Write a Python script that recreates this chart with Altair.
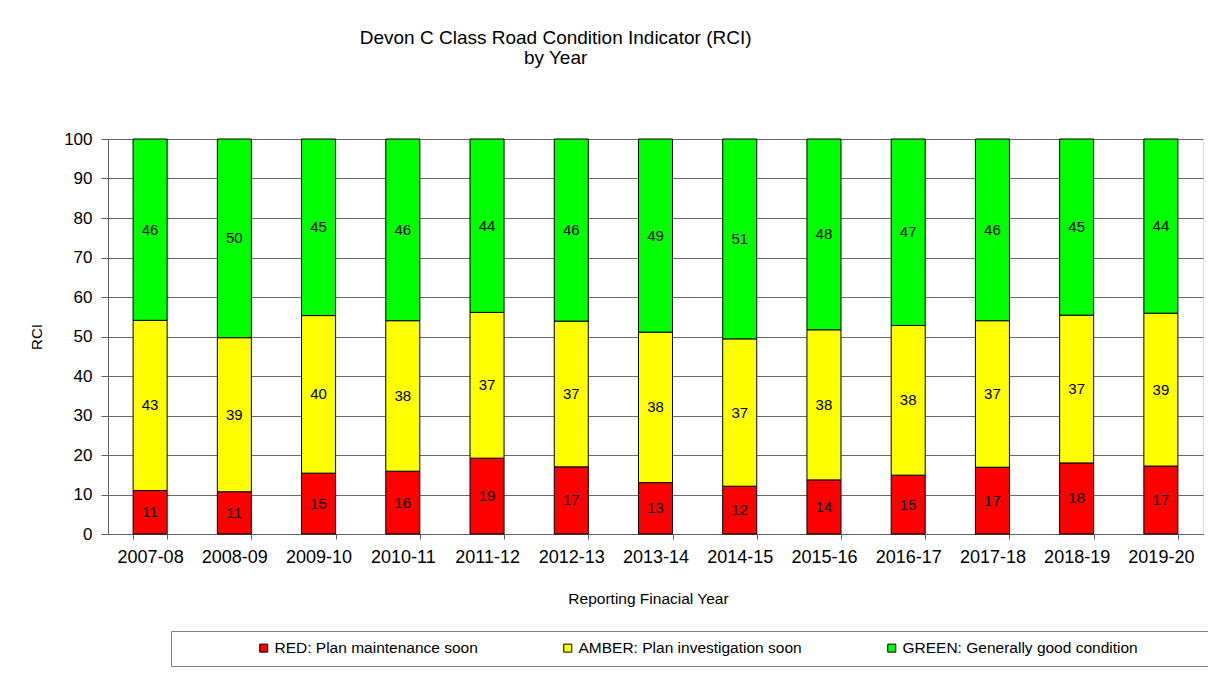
import altair as alt
import pandas as pd

years = ["2007-08", "2008-09", "2009-10", "2010-11", "2011-12", "2012-13", "2013-14",
         "2014-15", "2015-16", "2016-17", "2017-18", "2018-19", "2019-20"]
red = [11.0, 10.7, 15.4, 15.9, 19.2, 17.0, 13.0, 12.1, 13.7, 14.9, 16.9, 18.0, 17.2]
amber = [43.1, 39.0, 39.9, 38.1, 36.9, 36.9, 38.1, 37.3, 38.0, 37.9, 37.1, 37.4, 38.7]
green = [45.9, 50.3, 44.7, 46.0, 43.9, 46.1, 48.9, 50.6, 48.3, 47.2, 46.0, 44.6, 44.1]
series = ["RED: Plan maintenance soon", "AMBER: Plan investigation soon",
          "GREEN: Generally good condition"]
colors = ["#FF0000", "#FFFF00", "#00FF00"]
y_ticks = list(range(0, 101, 10))

rows = []
for i, yr in enumerate(years):
    for k, (s, vals) in enumerate(zip(series, [red, amber, green])):
        rows.append({"year": yr, "series": s, "order": k, "value": vals[i]})
df = pd.DataFrame(rows)

FONT = "Liberation Sans"

base = alt.Chart(df).transform_stack(
    stack="value", groupby=["year"], as_=["v0", "v1"],
    sort=[alt.SortField("order", "ascending")]
)

x_enc = alt.X(
    "year:N", sort=years, title="Reporting Finacial Year",
    scale=alt.Scale(paddingInner=0.596, paddingOuter=0.298),
    axis=alt.Axis(labelAngle=0, tickBand="extent", labelFontSize=18, labelFont=FONT,
                  labelColor="black", tickSize=5, tickColor="#606060",
                  domainColor="#606060", labelPadding=9, titleFontSize=15.5,
                  titleFont=FONT, titleFontWeight="normal", titleColor="black",
                  titlePadding=25, titleX=540, titleAlign="center", grid=False),
)

y_scale = alt.Scale(domain=[0, 100], nice=False)
y_axis = alt.Axis(values=y_ticks, title="RCI", labelFontSize=17, labelFont=FONT,
                  labelColor="black", tickSize=7, tickColor="#606060",
                  domainColor="#606060", labelPadding=9, titleFontSize=15,
                  titleFont=FONT, titleFontWeight="normal", titleColor="black",
                  titlePadding=19, grid=True, gridColor="#6a6a6a", gridOpacity=1)

bars = base.mark_bar(stroke="black", strokeWidth=1).encode(
    x=x_enc,
    y=alt.Y("v0:Q", scale=y_scale, axis=y_axis),
    y2="v1:Q",
    color=alt.Color(
        "series:N", sort=series,
        scale=alt.Scale(domain=series, range=colors),
        legend=alt.Legend(
            orient="none", legendX=63, legendY=492, direction="horizontal",
            columns=3, title="\u00a0", titleOrient="right", titlePadding=70,
            symbolType="square", symbolSize=64, symbolStrokeColor="black",
            symbolStrokeWidth=1, symbolOffset=76, labelFontSize=15.5, labelFont=FONT,
            labelColor="black", columnPadding=6, padding=9,
            strokeColor="#808080", labelOffset=3, labelLimit=600,
        ),
    ),
    order=alt.Order("order:Q"),
)

labels = base.transform_calculate(mid="(datum.v0 + datum.v1) / 2").mark_text(
    font=FONT, fontSize=15, color="black"
).encode(
    x=x_enc,
    y=alt.Y("mid:Q", scale=y_scale, axis=y_axis),
    text=alt.Text("value:Q", format=".0f"),
)

chart = alt.layer(bars, labels).properties(
    width=1095, height=395,
    autosize=alt.AutoSizeParams(type="none"),
    padding={"left": 100, "top": 131, "right": 5, "bottom": 134},
    title=alt.TitleParams(
        text=["Devon C Class Road Condition Indicator (RCI)", "by Year"],
        anchor="start", align="center", dx=526, offset=62, fontSize=19,
        font=FONT, fontWeight="normal", color="black", lineHeight=20,
    ),
).configure_view(
    fill="#C0C0C0", stroke="#909090", strokeWidth=1
).configure(background="white")

chart.save("out.html", embed_options={"renderer": "svg", "actions": False})
